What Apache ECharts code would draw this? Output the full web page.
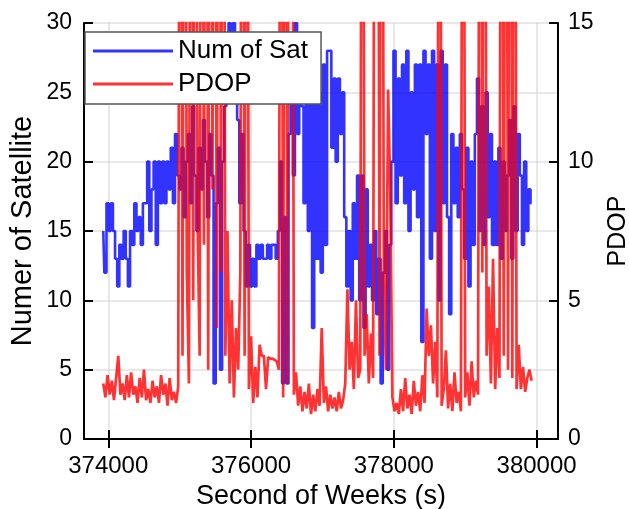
<!DOCTYPE html>
<html lang="en">
<head>
<meta charset="UTF-8">
<title>Num of Sat / PDOP</title>
<style>
  html, body { margin: 0; padding: 0; background: #fff; }
  #main { width: 629px; height: 509px; }
</style>
</head>
<body>
<div id="main"></div>
<script src="https://cdn.jsdelivr.net/npm/echarts@6/dist/echarts.min.js"></script>
<script>
// one reading every 30 s, starting at 373930 s
var startSec = 373930;
var stepSec = 30;

// number of satellites
var numSat = [
  15,12,17,15,17,
  15,13,11,14,13,15,13,
  11,15,14,17,15,16,14,17,
  17,20,15,18,20,14,20,17,
  20,17,20,18,21,17,22,19,
  18,21,16,20,22,17,24,19,15,21,18,23,20,16,22,19,4,17,21,5,20,24,
  26,30,27,30,25,
  23,17,22,15,11,
  14,11,13,11,14,
  13,14,13,13,14,13,14,14,13,
  15,20,4,16,4,22,
  28,19,30,22,26,
  24,17,28,15,26,8,29,13,25,
  12,27,14,28,
  28,21,26,20,26,22,25,
  16,11,15,10,17,13,19,
  10,19,8,18,11,
  14,10,15,9,13,4,12,15,5,14,
  20,28,17,26,19,27,
  17,28,15,25,18,27,16,
  27,7,28,22,27,
  13,28,15,27,10,
  28,17,27,16,
  9,
  22,17,21,16,22,18,
  13,21,11,20,14,22,26,
  15,24,14,25,16,22,14,
  20,14,21,13,20,15,19,
  23,13,24,15,22,
  19,14,20,15,18,17
];

// PDOP (spikes run past the top of the axis)
var pdop = [
  2.0,1.5,2.3,1.6,2.1,1.4,2.2,3.0,1.6,2.0,1.4,2.3,
  1.5,2.4,1.6,1.9,1.3,2.2,1.5,2.5,1.4,1.8,1.3,2.1,
  1.5,1.9,1.3,2.3,1.6,2.0,1.2,2.2,1.4,1.7,1.3,1.9,
  40,3,40,6,2,40,5,40,8,3,40,7,40,2.5,40,9,40,4,40,6,40,3,
  7.5,2.0,5,1.5,4,
  2.5,6,40,3,40,
  1.8,3.7,1.3,2.6,1.5,
  3.4,3.0,3.0,1.8,2.95,2.9,2.9,2.85,2.8,
  2.5,40,1.5,40,2,40,40,1.6,
  2.4,1.2,1.9,1.0,1.7,1.1,2.0,0.9,1.6,1.0,1.8,1.2,4.0,1.3,1.9,1.0,1.6,1.1,1.5,1.0,1.7,1.1,1.4,
  2.0,5.4,2.5,3.5,1.8,5.0,2.2,
  2.5,40,3.0,4.5,2.0,3.8,2.2,40,40,3,40,5.8,2.5,12.6,9.0,
  1.5,1.0,1.3,0.9,1.8,1.0,2.2,1.1,1.6,0.9,2.1,1.2,1.7,1.0,2.3,1.3,4.7,3.0,
  4.1,2.0,3.5,1.5,40,
  1.2,1.8,3.2,1.1,2.0,1.0,2.4,1.3,1.7,1.0,40,
  1.5,2.4,1.2,2.8,1.5,2.1,
  1.6,40,6,40,3,
  5.5,2.0,6.5,1.8,4.0,2.2,
  40,3,40,2.5,40,2.2,40,1.8,
  3.4,1.8,2.6,1.7,2.2,2.5,2.1
];

var xTicks = [374000, 376000, 378000, 380000];

var satData = numSat.map(function (v, i) { return [startSec + i * stepSec, v]; });
var pdopData = pdop.map(function (v, i) { return [startSec + i * stepSec, v]; });

var font = "'Liberation Sans', Arial, sans-serif";
var gridColor = 'rgba(200,200,200,0.55)';

var myChart = echarts.init(document.getElementById('main'));

var option = {
  animation: false,
  grid: { left: 84, right: 71, top: 23, bottom: 70, containLabel: false, outerBoundsMode: 'none' },
  legend: {
    orient: 'vertical',
    left: 85,
    top: 32,
    padding: [6, 13, 7, 8],
    itemGap: 7,
    itemWidth: 80,
    itemHeight: 3,
    icon: 'rect',
    backgroundColor: '#fff',
    borderColor: '#555',
    borderWidth: 1.5,
    textStyle: { fontSize: 26, fontFamily: font, color: '#000', lineHeight: 26 },
    data: ['Num of Sat', 'PDOP']
  },
  xAxis: [
    {
      type: 'value',
      min: 373660,
      max: 380300,
      z: 3,
      name: 'Second of Weeks (s)',
      nameLocation: 'middle',
      nameGap: 44,
      nameMoveOverlap: false,
      nameTextStyle: { fontSize: 27, fontFamily: font, color: '#000' },
      axisLine: { lineStyle: { color: '#000', width: 2 } },
      axisTick: { inside: true, length: 9, customValues: xTicks, lineStyle: { color: '#000', width: 2 } },
      axisLabel: {
        customValues: xTicks, margin: 15, fontSize: 24, fontFamily: font, color: '#000',
        formatter: function (v) { return String(v); }
      },
      splitLine: { show: true, lineStyle: { color: gridColor, width: 1.5 } }
    },
    {
      type: 'value',
      position: 'top',
      min: 373660,
      max: 380300,
      z: 3,
      axisLine: { show: true, lineStyle: { color: '#000', width: 2 } },
      axisTick: { inside: true, length: 9, customValues: xTicks, lineStyle: { color: '#000', width: 2 } },
      axisLabel: { show: false },
      splitLine: { show: false }
    }
  ],
  yAxis: [
    {
      type: 'value',
      min: 0,
      max: 30,
      interval: 5,
      z: 3,
      name: 'Numer of Satellite',
      nameLocation: 'middle',
      nameGap: 47,
      nameMoveOverlap: false,
      nameTextStyle: { fontSize: 29, fontFamily: font, color: '#000' },
      axisLine: { show: true, lineStyle: { color: '#000', width: 2 } },
      axisTick: { show: true, inside: true, length: 9, lineStyle: { color: '#000', width: 2 } },
      axisLabel: { margin: 12, fontSize: 23, fontFamily: font, color: '#000' },
      splitLine: { show: true, lineStyle: { color: gridColor, width: 1.5 } }
    },
    {
      type: 'value',
      position: 'right',
      min: 0,
      max: 15,
      interval: 5,
      z: 3,
      name: 'PDOP',
      nameLocation: 'middle',
      nameRotate: 90,
      nameGap: 48,
      nameMoveOverlap: false,
      nameTextStyle: { fontSize: 25, fontFamily: font, color: '#000' },
      axisLine: { show: true, lineStyle: { color: '#000', width: 2 } },
      axisTick: { show: true, inside: true, length: 9, lineStyle: { color: '#000', width: 2 } },
      axisLabel: { margin: 10, fontSize: 23, fontFamily: font, color: '#000' },
      splitLine: { show: false }
    }
  ],
  series: [
    {
      name: 'Num of Sat',
      type: 'line',
      xAxisIndex: 0,
      yAxisIndex: 0,
      symbol: 'none',
      step: 'middle',
      data: satData,
      itemStyle: { color: 'rgb(51,51,255)' },
      lineStyle: { color: '#0000ff', opacity: 0.8, width: 2.6 }
    },
    {
      name: 'PDOP',
      type: 'line',
      xAxisIndex: 0,
      yAxisIndex: 1,
      symbol: 'none',
      clip: true,
      data: pdopData,
      itemStyle: { color: 'rgb(255,51,51)' },
      lineStyle: { color: '#ff0000', opacity: 0.8, width: 2.7 }
    }
  ]
};

myChart.setOption(option);
</script>
</body>
</html>
